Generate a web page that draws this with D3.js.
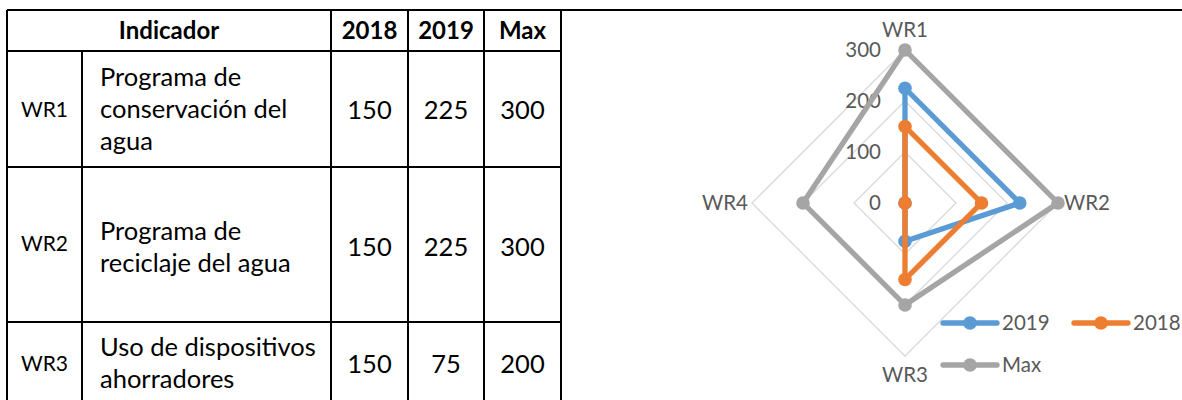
<!DOCTYPE html>
<html>
<head>
<meta charset="utf-8">
<script src="https://cdn.jsdelivr.net/npm/d3@7"></script>
<style>
  body { margin: 0; background: #fff; }
  svg { display: block; font-family: Lato, "Open Sans", sans-serif; }
</style>
</head>
<body>
<div id="chart"></div>
<script>
// datos
var axes = ["WR1", "WR2", "WR3", "WR4"];
var v2019 = [225, 225, 75, 0];
var v2018 = [150, 150, 150, 0];
var vMax = [300, 300, 200, 200];
var ticks = [0, 100, 200, 300];

var headers = ["Indicador", "2018", "2019", "Max"];
var rowCodes = ["WR1", "WR2", "WR3"];
var rowNames = [
  ["Programa de", "conservación del", "agua"],
  ["Programa de", "reciclaje del agua"],
  ["Uso de dispositivos", "ahorradores"]
];

var width = 1182, height = 400;
var svg = d3.select("#chart").append("svg")
  .attr("width", width)
  .attr("height", height);

// línea superior
svg.append("line")
  .attr("x1", 7).attr("x2", 1182)
  .attr("y1", 10).attr("y2", 10)
  .attr("stroke", "#000").attr("stroke-width", 2);

// ---- tabla ----
var cols = [7, 82, 331, 408, 484, 561];
var rows = [10, 51, 167, 322, 402];
var tbl = svg.append("g");

// bordes horizontales
tbl.selectAll(".hl")
  .data(rows.slice(0, 4))
  .enter().append("line")
  .attr("x1", cols[0]).attr("x2", cols[5])
  .attr("y1", function(d) { return d; }).attr("y2", function(d) { return d; })
  .attr("stroke", "#000").attr("stroke-width", 2);

// bordes verticales
tbl.selectAll(".vl")
  .data(cols)
  .enter().append("line")
  .attr("x1", function(d) { return d; }).attr("x2", function(d) { return d; })
  .attr("y1", function(d, i) { return i == 1 ? rows[1] : rows[0]; })
  .attr("y2", height)
  .attr("stroke", "#000").attr("stroke-width", 2);

// encabezado
var headX = [(cols[0] + cols[2]) / 2, (cols[2] + cols[3]) / 2, (cols[3] + cols[4]) / 2, (cols[4] + cols[5]) / 2];
tbl.selectAll(".head")
  .data(headers)
  .enter().append("text")
  .attr("x", function(d, i) { return headX[i]; })
  .attr("y", 39)
  .attr("text-anchor", "middle")
  .attr("font-size", 24)
  .attr("font-weight", "bold")
  .attr("fill", "#000")
  .text(function(d) { return d; });

var codeY = [117, 251, 371];
var numY = [119, 256, 373];
var nameY = [[86, 118, 150], [240, 272], [356, 388]];

rowCodes.forEach(function(code, i) {
  tbl.append("text")
    .attr("x", (cols[0] + cols[1]) / 2)
    .attr("y", codeY[i])
    .attr("text-anchor", "middle")
    .attr("font-size", 21)
    .text(code);

  rowNames[i].forEach(function(t, j) {
    tbl.append("text")
      .attr("x", 100)
      .attr("y", nameY[i][j])
      .attr("font-size", 25.5)
      .text(t);
  });

  var vals = [v2018[i], v2019[i], vMax[i]];
  vals.forEach(function(v, j) {
    tbl.append("text")
      .attr("x", headX[j + 1])
      .attr("y", numY[i])
      .attr("text-anchor", "middle")
      .attr("font-size", 25.5)
      .text(v);
  });
});

// ---- radar ----
var cx = 905, cy = 203;
var r = d3.scaleLinear().domain([0, 300]).range([0, 153]);
var angle = d3.scalePoint().domain(axes).range([0, 2 * Math.PI * 3 / 4]);

function pt(name, v) {
  var a = angle(name);
  return [cx + Math.sin(a) * r(v), cy - Math.cos(a) * r(v)];
}

var radar = svg.append("g");

// cuadrícula
radar.selectAll(".grid")
  .data(ticks.filter(function(t) { return t > 0; }))
  .enter().append("polygon")
  .attr("points", function(t) {
    return axes.map(function(a) { return pt(a, t).join(","); }).join(" ");
  })
  .attr("fill", "none")
  .attr("stroke", "#d9d9d9")
  .attr("stroke-width", 1.3);

// etiquetas del eje
radar.selectAll(".tick")
  .data(ticks)
  .enter().append("text")
  .attr("x", 881)
  .attr("y", function(t) { return cy - r(t); })
  .attr("dy", "0.35em")
  .attr("text-anchor", "end")
  .attr("font-size", 20.5)
  .attr("fill", "#595959")
  .text(function(t) { return t; });

// etiquetas de categoría
var catPos = {
  WR1: { x: cx, y: 30, anchor: "middle" },
  WR2: { x: 1064, y: cy, anchor: "start" },
  WR3: { x: cx, y: 375, anchor: "middle" },
  WR4: { x: 748, y: cy, anchor: "end" }
};
radar.selectAll(".cat")
  .data(axes)
  .enter().append("text")
  .attr("x", function(d) { return catPos[d].x; })
  .attr("y", function(d) { return catPos[d].y; })
  .attr("dy", "0.35em")
  .attr("text-anchor", function(d) { return catPos[d].anchor; })
  .attr("font-size", 20.5)
  .attr("fill", "#595959")
  .text(function(d) { return d; });

// series
var series = [
  { name: "2019", values: v2019, color: "#5b9bd5" },
  { name: "2018", values: v2018, color: "#ed7d31" },
  { name: "Max", values: vMax, color: "#a5a5a5" }
];

var line = d3.line().curve(d3.curveLinearClosed);

series.forEach(function(s) {
  var pts = axes.map(function(a, i) { return pt(a, s.values[i]); });
  radar.append("path")
    .attr("d", line(pts))
    .attr("fill", "none")
    .attr("stroke", s.color)
    .attr("stroke-width", 5.3)
    .attr("stroke-linejoin", "round");
  radar.selectAll(null)
    .data(pts)
    .enter().append("circle")
    .attr("cx", function(d) { return d[0]; })
    .attr("cy", function(d) { return d[1]; })
    .attr("r", 6.8)
    .attr("fill", s.color);
});

// leyenda
var legendPos = [
  { x: 943, y: 323 },
  { x: 1074, y: 323 },
  { x: 943, y: 365 }
];
var lg = svg.selectAll(".legend")
  .data(series)
  .enter().append("g")
  .attr("transform", function(d, i) {
    return "translate(" + legendPos[i].x + "," + legendPos[i].y + ")";
  });
lg.append("line")
  .attr("x1", 0).attr("x2", 54)
  .attr("stroke", function(d) { return d.color; })
  .attr("stroke-width", 5.3)
  .attr("stroke-linecap", "round");
lg.append("circle")
  .attr("cx", 27).attr("r", 6.8)
  .attr("fill", function(d) { return d.color; });
lg.append("text")
  .attr("x", 59)
  .attr("dy", "0.35em")
  .attr("font-size", 20.5)
  .attr("fill", "#595959")
  .text(function(d) { return d.name; });
</script>
</body>
</html>
